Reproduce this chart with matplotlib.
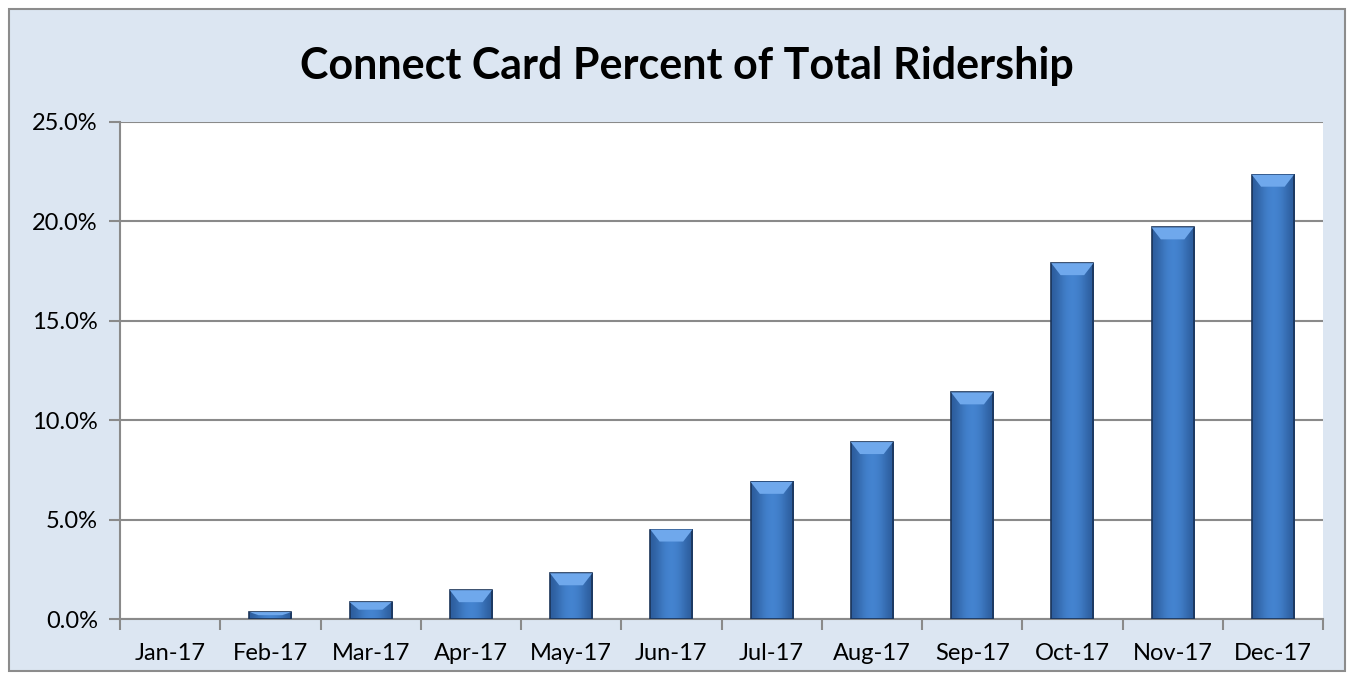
import matplotlib
matplotlib.use("Agg")
import matplotlib.pyplot as plt
import numpy as np
from matplotlib.patches import Rectangle, Polygon
from matplotlib.ticker import FuncFormatter, FixedLocator, NullFormatter
from matplotlib.colors import LinearSegmentedColormap

months = ["Jan-17", "Feb-17", "Mar-17", "Apr-17", "May-17", "Jun-17",
          "Jul-17", "Aug-17", "Sep-17", "Oct-17", "Nov-17", "Dec-17"]
values = [0.0, 0.35, 0.85, 1.45, 2.3, 4.5, 6.9, 8.9, 11.4, 17.9, 19.7, 22.35]
title = "Connect Card Percent of Total Ridership"
yticks = [0, 5, 10, 15, 20, 25]

plt.rcParams['font.family'] = ['Lato', 'DejaVu Sans']

W, H = 1354, 679
fig = plt.figure(figsize=(W / 100, H / 100), dpi=100)
fig.patch.set_facecolor('white')

# outer chart area as a background axes
bg = fig.add_axes([0, 0, 1, 1], zorder=-5)
bg.set_xlim(0, W)
bg.set_ylim(H, 0)
bg.axis('off')
bg.add_patch(Rectangle((9, 9), 1336, 662, facecolor='#DCE6F2', edgecolor='#8C8C8C', linewidth=1.5))

ax = fig.add_axes([120 / W, (H - 619) / H, 1203 / W, 497 / H], zorder=1)
ax.set_facecolor('white')

bw = 0.42
x = np.arange(len(months))
grad = np.array([[0.0, 0.2, 0.45, 0.7, 0.85, 0.9, 0.85, 0.7, 0.45, 0.2, 0.0]])
cmap = LinearSegmentedColormap.from_list('b', ['#2D5E9E', '#4788D6'])
bev_y = 25 * 12 / 497  # bevel depth in data units (approx 12 px)
for xi, v in zip(x, values):
    if v <= 0:
        continue
    x0, x1 = xi - bw / 2, xi + bw / 2
    ax.imshow(grad, cmap=cmap, extent=[x0, x1, 0, v], aspect='auto',
              interpolation='bicubic', zorder=3, vmin=0, vmax=1)
    ax.add_patch(Rectangle((x0, 0), bw, v, facecolor='none', edgecolor='#1A3358',
                           linewidth=1.2, zorder=4))
    d = min(bev_y, v * 0.45)
    dx = bw * 0.22
    ax.add_patch(Polygon([(x0, v), (x1, v), (x1 - dx, v - d), (x0 + dx, v - d)],
                         closed=True, facecolor='#6FA8EC', edgecolor='none', zorder=4))

ax.set_xlim(-0.5, len(months) - 0.5)
ax.set_ylim(0, 25)

ax.set_yticks(yticks)
ax.yaxis.set_major_formatter(FuncFormatter(lambda v, p: f"{v:.1f}%"))
ax.yaxis.grid(True, color='#8A8A8A', linewidth=1.5, zorder=1)
ax.set_axisbelow(True)

ax.xaxis.set_major_locator(FixedLocator(np.arange(-0.5, len(months), 1.0)))
ax.xaxis.set_major_formatter(NullFormatter())
ax.xaxis.set_minor_locator(FixedLocator(x))
ax.set_xticklabels(months, minor=True)
ax.tick_params(axis='x', which='minor', length=0, pad=17, labelsize=17, labelcolor='black')
ax.tick_params(axis='x', which='major', length=8, width=1.5, color='#8A8A8A', direction='out')
ax.tick_params(axis='y', length=8, width=1.5, color='#8A8A8A', direction='out', labelsize=17, pad=8)

for s in ['top', 'right']:
    ax.spines[s].set_visible(False)
for s in ['left', 'bottom']:
    ax.spines[s].set_color('#8A8A8A')
    ax.spines[s].set_linewidth(1.5)

fig.text(687 / W, (H - 66) / H, title, ha='center', va='center', fontsize=31, fontweight='bold')

fig.savefig('out.png', dpi=100)
